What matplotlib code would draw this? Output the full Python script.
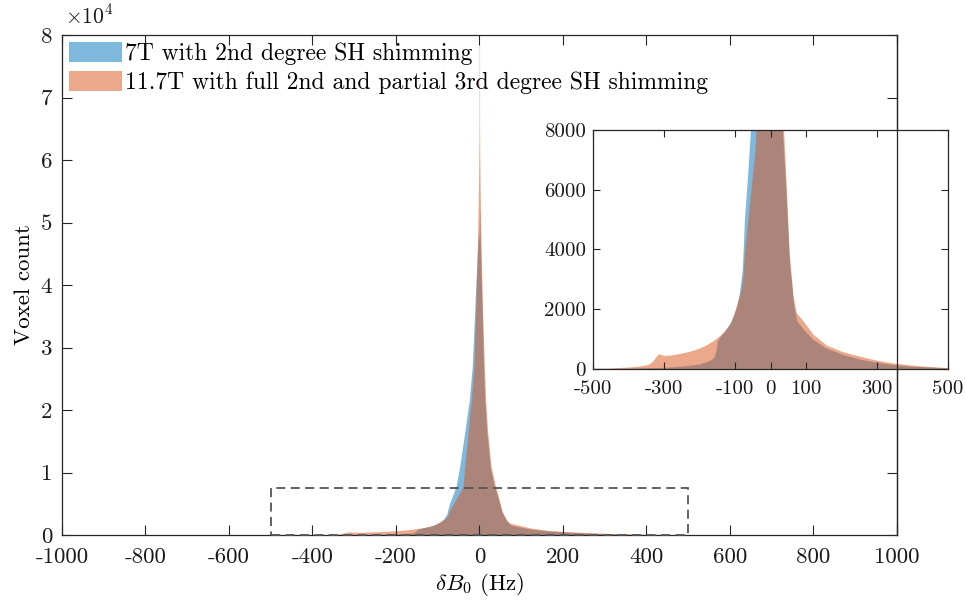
import matplotlib
matplotlib.use("Agg")
import matplotlib.pyplot as plt
from matplotlib.patches import Rectangle
from matplotlib.lines import Line2D
from matplotlib.ticker import FuncFormatter

plt.rcParams['font.family'] = ['cmr10', 'DejaVu Serif']
plt.rcParams['mathtext.fontset'] = 'cm'
plt.rcParams['axes.unicode_minus'] = False
plt.rcParams['axes.formatter.use_mathtext'] = True

# ---------------- data ----------------
labels = ["7T with 2nd degree SH shimming",
          "11.7T with full 2nd and partial 3rd degree SH shimming"]

# 7T histogram envelope: frequency offset (Hz) and voxel count
b0_7t = [-500, -450, -400, -350, -300, -250, -200, -170, -158, -152, -148,
         -135, -120, -110, -100, -92, -86, -78, -72, -62, -55, -47, -35,
         -24, -17, -10, -5, -2.5, -1, 0, 1, 2, 3, 6, 10, 13, 18, 26, 35,
         44, 55, 67, 76, 95, 121, 158, 205, 252, 299, 346, 393, 440, 496, 500]
cnt_7t = [3, 6, 15, 25, 40, 75, 150, 270, 380, 600, 950,
          1150, 1380, 1580, 1850, 2150, 2540, 3320, 4990, 6660, 8000, 11000, 16450,
          21700, 27000, 37700, 45000, 48000, 47000, 50000, 52000, 48000, 45000, 37700, 27000, 21700, 16450, 11000, 8000,
          6100, 3540, 2090, 1590, 1300, 970, 690, 470, 320, 210, 134, 78, 56, 22, 0]

# 11.7T histogram envelope
b0_117t = [-500, -450, -400, -370, -350, -340, -330, -320, -313, -305, -295,
           -280, -260, -240, -220, -200, -180, -160, -140, -125, -110, -98,
           -90, -81, -76, -72, -62, -53, -43, -39, -35, -27, -19, -13, -8,
           -4, -2, -1, -0.6, -0.5, 0, 0.5, 0.6, 1, 2, 4, 7, 12, 15, 20, 28, 38, 46, 54,
           65, 74, 93, 121, 159, 206, 253, 300, 347, 395, 442, 498, 500]
cnt_117t = [5, 15, 50, 80, 120, 160, 260, 420, 500, 460, 440,
            450, 490, 540, 600, 680, 790, 930, 1120, 1300, 1550, 1980,
            2300, 2650, 3100, 3880, 4990, 6100, 7220, 8000, 11000, 16450, 21700, 27000, 37700,
            48000, 56000, 62000, 66000, 78000, 79000, 78000, 66000, 61000, 55000, 47000, 37700, 27000, 21700, 16450, 11000, 8000, 6100, 3880,
            2430, 1870, 1600, 1150, 780, 560, 410, 280, 185, 120, 72, 35, 0]

main_xticks = [-1000, -800, -600, -400, -200, 0, 200, 400, 600, 800, 1000]
main_yticks = [0, 10000, 20000, 30000, 40000, 50000, 60000, 70000, 80000]
inset_xticks = [-500, -300, -100, 0, 100, 300, 500]
inset_yticks = [0, 2000, 4000, 6000, 8000]
zoom_box = (-500, 0, 1000, 7500)   # x0, y0, width, height of dashed zoom region

# ---------------- styling ----------------
c_blue = (0.0, 0.447, 0.741)
c_orange = (0.85, 0.325, 0.098)
alpha = 0.5
axcol = '#262626'

fig = plt.figure(figsize=(9.66, 6.03), dpi=100)
ax = fig.add_axes([62/966, 68/603, 834.7/966, 500/603])


def style_axes(a, fs, tl):
    for s in a.spines.values():
        s.set_color(axcol)
        s.set_linewidth(0.9)
    a.tick_params(direction='in', top=True, right=True, length=tl, width=0.8,
                  color=axcol, labelcolor='#1a1a1a', labelsize=fs)


def draw_hists(a, with_labels):
    a.fill_between(b0_7t, 0, cnt_7t, color=c_blue, alpha=alpha, linewidth=0,
                   label=labels[0] if with_labels else None)
    a.fill_between(b0_117t, 0, cnt_117t, color=c_orange, alpha=alpha, linewidth=0,
                   label=labels[1] if with_labels else None)


draw_hists(ax, True)
ax.set_xlim(-1000, 1000)
ax.set_ylim(0, 80000)
ax.set_xticks(main_xticks)
ax.set_yticks(main_yticks)
ax.xaxis.set_major_formatter(FuncFormatter(lambda v, p: f"{int(v)}"))
ax.yaxis.set_major_formatter(FuncFormatter(lambda v, p: f"{int(round(v / 10000))}"))
style_axes(ax, 16.5, 7)
ax.tick_params(axis='x', pad=9)
ax.tick_params(axis='y', pad=7)
ax.set_xlabel(r'$\delta B_0$ (Hz)', fontsize=16.5, labelpad=3)
ax.set_ylabel('Voxel count', fontsize=16.5, labelpad=5)
ax.text(0.003, 1.016, r'$\times10^{4}$', transform=ax.transAxes, fontsize=15.5,
        ha='left', va='bottom', color='#1a1a1a')

ax.add_patch(Rectangle((zoom_box[0], zoom_box[1]), zoom_box[2], zoom_box[3],
                       fill=False, edgecolor='#555555', linewidth=1.3,
                       linestyle=(0, (5, 3)), zorder=3, clip_on=False))

leg = ax.legend(loc='upper left', bbox_to_anchor=(0.0, 1.0), borderaxespad=0.05,
                fontsize=17, frameon=True, fancybox=False, framealpha=0,
                edgecolor='black', handlelength=2.25, handleheight=0.95,
                handletextpad=0.1, borderpad=0.25, labelspacing=0.22)
leg.get_frame().set_linewidth(0.9)
leg.get_frame().set_facecolor('none')

# ---------------- inset ----------------
ins = fig.add_axes([593/966, 234/603, 355/966, 239/603])
draw_hists(ins, False)
ins.set_xlim(-500, 500)
ins.set_ylim(0, 8000)
ins.set_xticks(inset_xticks)
ins.set_yticks(inset_yticks)
ins.xaxis.set_major_formatter(FuncFormatter(lambda v, p: f"{int(v)}"))
ins.yaxis.set_major_formatter(FuncFormatter(lambda v, p: f"{int(v)}"))
style_axes(ins, 15, 5)
ins.tick_params(axis='x', pad=8)
ins.tick_params(axis='y', pad=5)

# main axes right border drawn over the inset, as in the original
fig.add_artist(Line2D([1, 1], [0, 1], transform=ax.transAxes, color=axcol,
                      linewidth=0.9, zorder=5))

fig.savefig('out.png', dpi=100)
